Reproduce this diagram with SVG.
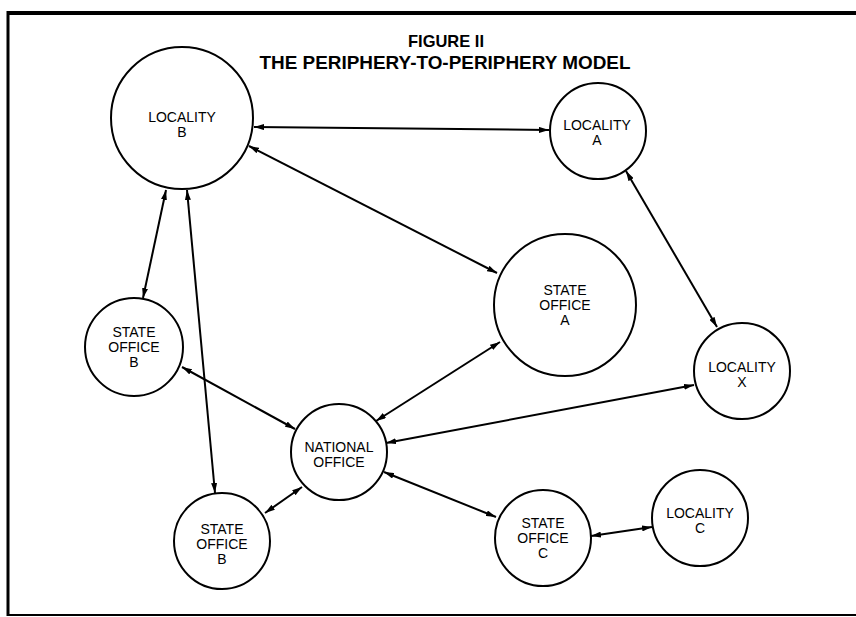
<svg xmlns="http://www.w3.org/2000/svg" width="856" height="617" viewBox="0 0 856 617">
<style>
.n circle{fill:#fff;stroke:#000;stroke-width:2}
.n text{font-family:"Liberation Sans",Arial,sans-serif;font-size:14px;text-anchor:middle;fill:#000}
.c line{stroke:#000;stroke-width:2;marker-start:url(#ah);marker-end:url(#ah)}
.t{font-family:"Liberation Sans",Arial,sans-serif;font-weight:bold;text-anchor:middle;fill:#000}
</style>
<defs>
<marker id="ah" viewBox="0 0 10 6" refX="10" refY="3" markerWidth="10" markerHeight="6" markerUnits="userSpaceOnUse" orient="auto-start-reverse">
<path d="M0,0 L10,3 L0,6 z" fill="#000"/>
</marker>
</defs>
<rect width="856" height="617" fill="#fff"/>
<g id="frame" fill="none" stroke="#000">
<line x1="7" y1="13" x2="856" y2="13" stroke-width="4"/>
<line x1="8" y1="11" x2="8" y2="616" stroke-width="3"/>
<line x1="7" y1="615" x2="856" y2="615" stroke-width="2"/>
</g>
<g id="title">
<text class="t" x="446" y="47" font-size="17" textLength="76" lengthAdjust="spacingAndGlyphs">FIGURE II</text>
<text class="t" x="445" y="69" font-size="18" textLength="371" lengthAdjust="spacingAndGlyphs">THE PERIPHERY-TO-PERIPHERY MODEL</text>
</g>
<g id="connectors" class="c">
<line x1="254" y1="127" x2="549" y2="130"/>
<line x1="249" y1="146" x2="497" y2="273"/>
<line x1="166" y1="190" x2="143" y2="298"/>
<line x1="187" y1="190" x2="215" y2="493"/>
<line x1="626" y1="171" x2="717" y2="327"/>
<line x1="182" y1="367" x2="295" y2="429"/>
<line x1="500" y1="342" x2="376" y2="421"/>
<line x1="694" y1="385" x2="386" y2="443"/>
<line x1="302" y1="487" x2="265" y2="513"/>
<line x1="384" y1="472" x2="496" y2="517"/>
<line x1="591" y1="536" x2="652" y2="527"/>
</g>
<g id="locality-b" class="n"><circle cx="182" cy="118" r="71"/><text x="182" y="122">LOCALITY</text><text x="182" y="137">B</text></g>
<g id="locality-a" class="n"><circle cx="598" cy="131" r="48"/><text x="597" y="130">LOCALITY</text><text x="597" y="145">A</text></g>
<g id="state-office-a" class="n"><circle cx="565" cy="305" r="71"/><text x="565" y="295">STATE</text><text x="565" y="310">OFFICE</text><text x="565" y="325">A</text></g>
<g id="state-office-b1" class="n"><circle cx="134" cy="347" r="49"/><text x="134" y="337">STATE</text><text x="134" y="352">OFFICE</text><text x="134" y="367">B</text></g>
<g id="locality-x" class="n"><circle cx="742" cy="371" r="48"/><text x="742" y="372">LOCALITY</text><text x="742" y="387">X</text></g>
<g id="national-office" class="n"><circle cx="339" cy="452" r="48"/><text x="339" y="452">NATIONAL</text><text x="339" y="467">OFFICE</text></g>
<g id="state-office-b2" class="n"><circle cx="222" cy="541" r="48"/><text x="222" y="534">STATE</text><text x="222" y="549">OFFICE</text><text x="222" y="564">B</text></g>
<g id="state-office-c" class="n"><circle cx="543" cy="538" r="48"/><text x="543" y="528">STATE</text><text x="543" y="543">OFFICE</text><text x="543" y="558">C</text></g>
<g id="locality-c" class="n"><circle cx="700" cy="518" r="48"/><text x="700" y="518">LOCALITY</text><text x="700" y="533">C</text></g>
</svg>
